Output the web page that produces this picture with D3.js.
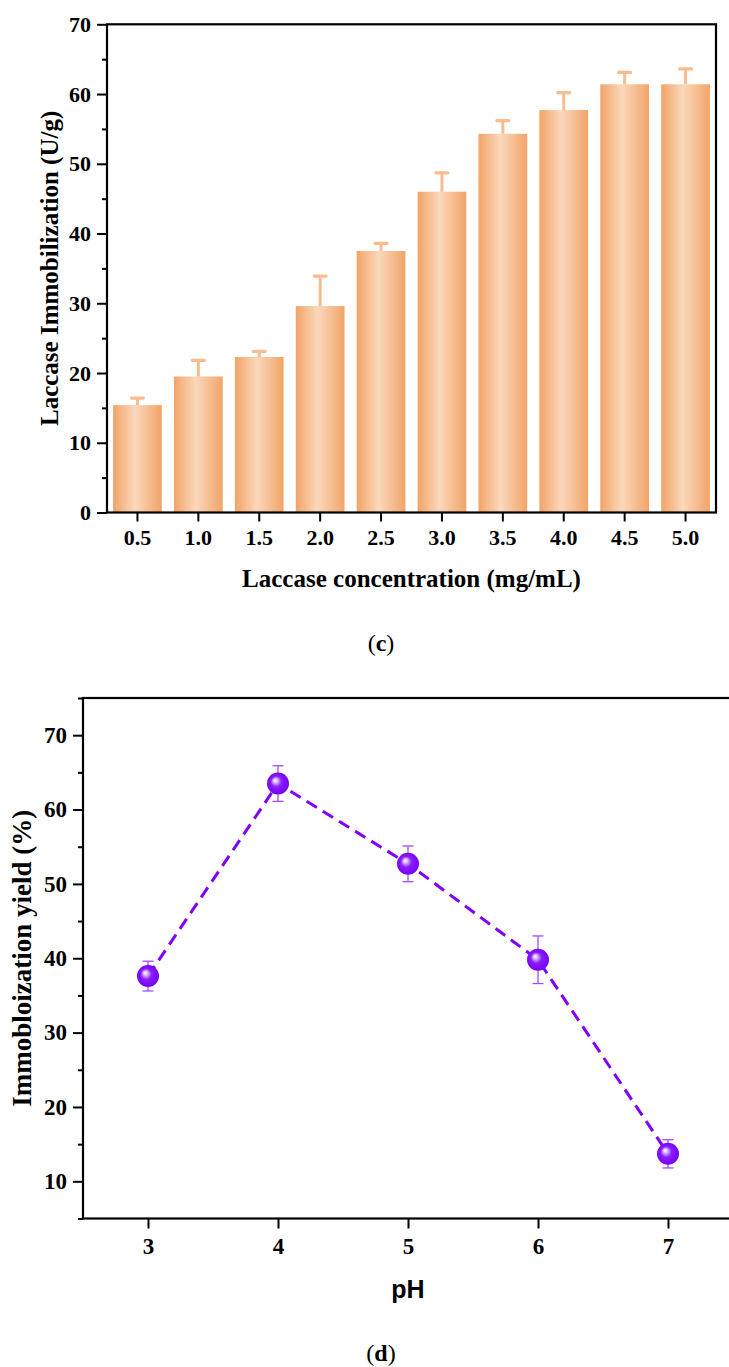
<!DOCTYPE html>
<html>
<head>
<meta charset="utf-8">
<script src="https://cdn.jsdelivr.net/npm/d3@7"></script>
<style>
  html, body { margin: 0; padding: 0; background: #ffffff; }
  svg { display: block; }
</style>
</head>
<body>
<svg id="fig" width="729" height="1367"></svg>
<script>
// Panel (c): laccase loading vs. enzyme concentration
const concentrations = ["0.5", "1.0", "1.5", "2.0", "2.5", "3.0", "3.5", "4.0", "4.5", "5.0"];
const immobilization = [15.4, 19.5, 22.3, 29.6, 37.5, 46.0, 54.3, 57.7, 61.4, 61.4];
const immobilizationErr = [1.0, 2.3, 0.8, 4.3, 1.1, 2.7, 1.9, 2.5, 1.7, 2.2];
const loadingTicks = [0, 10, 20, 30, 40, 50, 60, 70];
const loadingMinorTicks = [5, 15, 25, 35, 45, 55, 65];

// Panel (d): immobilization yield vs. pH
const phValues = [3, 4, 5, 6, 7];
const yieldValues = [37.6, 63.5, 52.7, 39.8, 13.7];
const yieldErr = [2.0, 2.4, 2.4, 3.2, 1.9];
const yieldTicks = [10, 20, 30, 40, 50, 60, 70];
const yieldMinorTicks = [5, 15, 25, 35, 45, 55, 65, 75];

const svg = d3.select("#fig");
const serif = "'Liberation Serif', 'Times New Roman', serif";
const sans = "'Liberation Sans', Arial, sans-serif";

const defs = svg.append("defs");
const barGrad = defs.append("linearGradient")
  .attr("id", "barGrad").attr("x1", "0%").attr("x2", "100%").attr("y1", "0%").attr("y2", "0%");
barGrad.append("stop").attr("offset", "0%").attr("stop-color", "#F2A467");
barGrad.append("stop").attr("offset", "45%").attr("stop-color", "#FAD8BC");
barGrad.append("stop").attr("offset", "100%").attr("stop-color", "#F2A467");

const ballGrad = defs.append("radialGradient")
  .attr("id", "ballGrad").attr("cx", "50%").attr("cy", "50%").attr("r", "55%")
  .attr("fx", "36%").attr("fy", "34%");
ballGrad.append("stop").attr("offset", "0%").attr("stop-color", "#FFFFFF");
ballGrad.append("stop").attr("offset", "18%").attr("stop-color", "#D9B8FF");
ballGrad.append("stop").attr("offset", "45%").attr("stop-color", "#8A1CFF");
ballGrad.append("stop").attr("offset", "100%").attr("stop-color", "#7300F0");

function styleAxis(g, size, family) {
  g.select(".domain").remove();
  g.selectAll(".tick line").attr("stroke", "#000").attr("stroke-width", 2);
  g.selectAll(".tick text")
    .attr("fill", "#000")
    .attr("font-family", family)
    .attr("font-weight", "bold")
    .attr("font-size", size);
}

// ---------- Panel (c) ----------
const c = { left: 107, right: 716, top: 24.3, bottom: 512.5 };
const xc = d3.scaleBand().domain(concentrations).range([c.left, c.right])
  .paddingInner(0.2).paddingOuter(0.1);
const yc = d3.scaleLinear().domain([0, 70]).range([c.bottom, c.top]);

const pc = svg.append("g");

pc.selectAll("rect.bar").data(concentrations).join("rect")
  .attr("class", "bar")
  .attr("x", d => xc(d))
  .attr("width", xc.bandwidth())
  .attr("y", (d, i) => yc(immobilization[i]))
  .attr("height", (d, i) => yc(0) - yc(immobilization[i]))
  .attr("fill", "url(#barGrad)");

// one-sided (upper) error bars
const capW = 12;
pc.selectAll("line.err").data(concentrations).join("line")
  .attr("class", "err")
  .attr("x1", d => xc(d) + xc.bandwidth() / 2)
  .attr("x2", d => xc(d) + xc.bandwidth() / 2)
  .attr("y1", (d, i) => yc(immobilization[i]))
  .attr("y2", (d, i) => yc(immobilization[i] + immobilizationErr[i]))
  .attr("stroke", "#F7BD91").attr("stroke-width", 3);
pc.selectAll("line.cap").data(concentrations).join("line")
  .attr("class", "cap")
  .attr("x1", d => xc(d) + xc.bandwidth() / 2 - capW / 2)
  .attr("x2", d => xc(d) + xc.bandwidth() / 2 + capW / 2)
  .attr("y1", (d, i) => yc(immobilization[i] + immobilizationErr[i]))
  .attr("y2", (d, i) => yc(immobilization[i] + immobilizationErr[i]))
  .attr("stroke", "#F7BD91").attr("stroke-width", 3.2).attr("stroke-linecap", "round");

pc.append("rect")
  .attr("x", c.left).attr("y", c.top)
  .attr("width", c.right - c.left).attr("height", c.bottom - c.top)
  .attr("fill", "none").attr("stroke", "#000").attr("stroke-width", 2.2);

pc.append("g").attr("transform", `translate(0,${c.bottom})`)
  .call(d3.axisBottom(xc).tickSize(9).tickSizeOuter(0).tickPadding(8))
  .call(g => styleAxis(g, 22, serif));
pc.append("g").attr("transform", `translate(${c.left},0)`)
  .call(d3.axisLeft(yc).tickValues(loadingTicks).tickSize(10).tickSizeOuter(0).tickPadding(6))
  .call(g => styleAxis(g, 22, serif));
pc.append("g").attr("transform", `translate(${c.left},0)`)
  .call(d3.axisLeft(yc).tickValues(loadingMinorTicks).tickSize(5).tickSizeOuter(0).tickFormat(""))
  .call(g => styleAxis(g, 22, serif));

pc.append("text")
  .attr("x", (c.left + c.right) / 2).attr("y", 587)
  .attr("text-anchor", "middle")
  .attr("font-family", serif).attr("font-weight", "bold").attr("font-size", 25)
  .text("Laccase concentration (mg/mL)");
pc.append("text")
  .attr("transform", `translate(58,${(c.top + c.bottom) / 2}) rotate(-90)`)
  .attr("text-anchor", "middle")
  .attr("font-family", serif).attr("font-weight", "bold").attr("font-size", 25)
  .text("Laccase Immobilization (U/g)");

const capC = svg.append("text")
  .attr("x", 381).attr("y", 651).attr("text-anchor", "middle")
  .attr("font-family", serif).attr("font-size", 24);
capC.append("tspan").text("(");
capC.append("tspan").attr("font-weight", "bold").text("c");
capC.append("tspan").text(")");

// ---------- Panel (d) ----------
const d = { left: 83, right: 733, top: 698, bottom: 1218.5 };
const xd = d3.scaleLinear().domain([2.5, 7.5]).range([d.left, d.right]);
const yd = d3.scaleLinear().domain([5, 75]).range([d.bottom, d.top]);

const pd = svg.append("g");

pd.append("rect")
  .attr("x", d.left).attr("y", d.top)
  .attr("width", d.right - d.left).attr("height", d.bottom - d.top)
  .attr("fill", "none").attr("stroke", "#000").attr("stroke-width", 2.2);

pd.append("g").attr("transform", `translate(0,${d.bottom})`)
  .call(d3.axisBottom(xd).tickValues(phValues).tickFormat(d3.format("d")).tickSize(10).tickSizeOuter(0).tickPadding(9))
  .call(g => styleAxis(g, 23, serif));
pd.append("g").attr("transform", `translate(${d.left},0)`)
  .call(d3.axisLeft(yd).tickValues(yieldTicks).tickSize(10).tickSizeOuter(0).tickPadding(6))
  .call(g => styleAxis(g, 23, serif));
pd.append("g").attr("transform", `translate(${d.left},0)`)
  .call(d3.axisLeft(yd).tickValues(yieldMinorTicks).tickSize(5).tickSizeOuter(0).tickFormat(""))
  .call(g => styleAxis(g, 23, serif));

const pts = phValues.map((p, i) => ({ p, v: yieldValues[i], e: yieldErr[i] }));

pd.append("path")
  .datum(pts)
  .attr("d", d3.line().x(q => xd(q.p)).y(q => yd(q.v)))
  .attr("fill", "none")
  .attr("stroke", "#7F00FF")
  .attr("stroke-width", 3)
  .attr("stroke-dasharray", "12,7");

const errW = 11;
const eb = pd.selectAll("g.eb").data(pts).join("g").attr("class", "eb")
  .attr("stroke", "#A24DFF").attr("stroke-width", 1.3);
eb.append("line")
  .attr("x1", q => xd(q.p)).attr("x2", q => xd(q.p))
  .attr("y1", q => yd(q.v - q.e)).attr("y2", q => yd(q.v + q.e));
eb.append("line")
  .attr("x1", q => xd(q.p) - errW / 2).attr("x2", q => xd(q.p) + errW / 2)
  .attr("y1", q => yd(q.v + q.e)).attr("y2", q => yd(q.v + q.e));
eb.append("line")
  .attr("x1", q => xd(q.p) - errW / 2).attr("x2", q => xd(q.p) + errW / 2)
  .attr("y1", q => yd(q.v - q.e)).attr("y2", q => yd(q.v - q.e));

pd.selectAll("circle.ball").data(pts).join("circle")
  .attr("class", "ball")
  .attr("cx", q => xd(q.p)).attr("cy", q => yd(q.v))
  .attr("r", 11)
  .attr("fill", "url(#ballGrad)");

pd.append("text")
  .attr("x", xd(5)).attr("y", 1298)
  .attr("text-anchor", "middle")
  .attr("font-family", sans).attr("font-weight", "bold").attr("font-size", 25)
  .text("pH");
pd.append("text")
  .attr("transform", `translate(31,${(d.top + d.bottom) / 2}) rotate(-90)`)
  .attr("text-anchor", "middle")
  .attr("font-family", serif).attr("font-weight", "bold").attr("font-size", 27)
  .text("Immobloization yield (%)");

const capD = svg.append("text")
  .attr("x", 381).attr("y", 1361).attr("text-anchor", "middle")
  .attr("font-family", serif).attr("font-size", 24);
capD.append("tspan").text("(");
capD.append("tspan").attr("font-weight", "bold").text("d");
capD.append("tspan").text(")");
</script>
</body>
</html>
